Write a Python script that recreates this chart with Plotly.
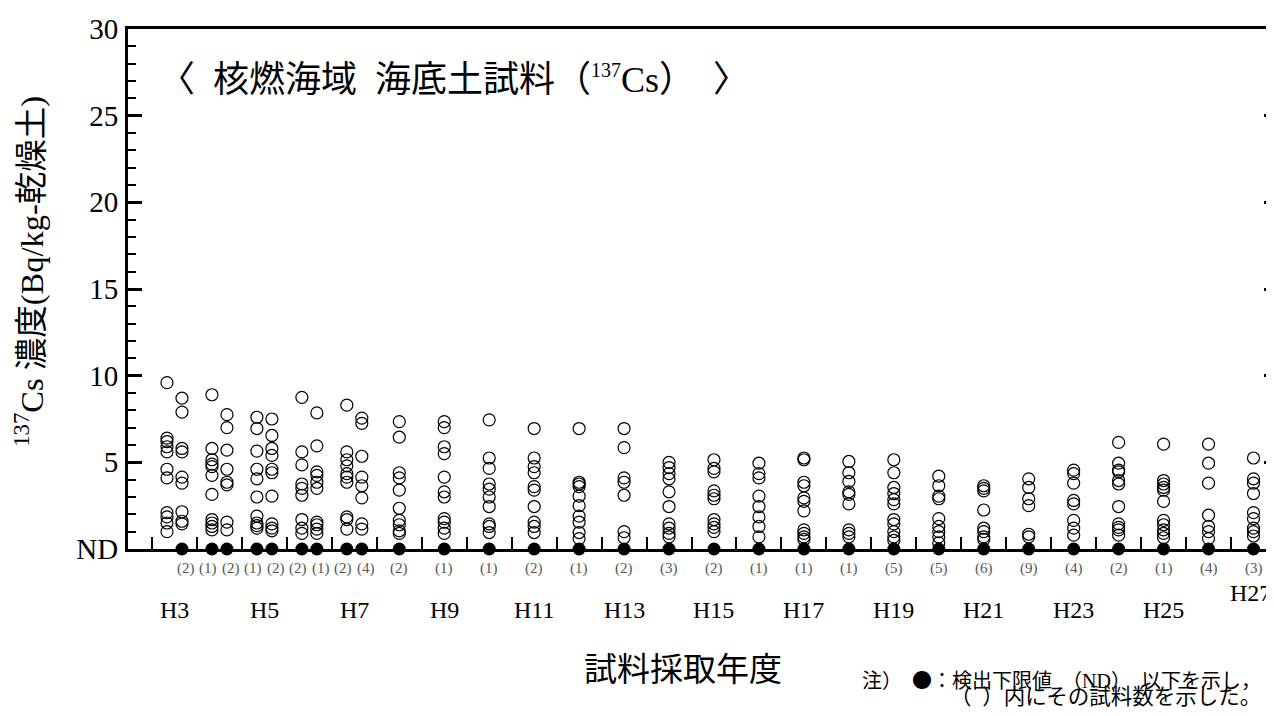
import plotly.graph_objects as go

# ---------------- data ----------------
# sampling columns: fiscal year (Heisei) and half (1 = first half, 2 = second half, 0 = whole year)
fiscal_years = [3, 3, 4, 4, 5, 5, 6, 6, 7, 7,
                8, 9, 10, 11, 12, 13, 14, 15, 16, 17,
                18, 19, 20, 21, 22, 23, 24, 25, 26, 27]
halves = [1, 2, 1, 2, 1, 2, 1, 2, 1, 2] + [0] * 20

# 137Cs concentrations (Bq/kg-dry) of detected samples per column
cs137_by_column = [
    [9.6, 6.4, 6.2, 5.9, 5.6, 4.6, 4.1, 2.1, 1.85, 1.5, 1.0],        # H3 first half
    [8.7, 7.9, 5.8, 5.6, 4.15, 3.8, 2.15, 1.6, 1.45],                # H3 second half
    [8.9, 5.8, 5.15, 4.9, 4.75, 4.25, 3.15, 1.7, 1.5, 1.3, 1.1],     # H4
    [7.75, 7.0, 5.7, 4.6, 3.85, 3.7, 1.55, 1.1],
    [7.6, 6.95, 5.65, 4.6, 4.05, 3.0, 1.9, 1.5, 1.35, 1.2],          # H5
    [7.5, 6.55, 5.8, 5.4, 4.6, 4.4, 3.05, 1.45, 1.2, 1.05],
    [8.75, 5.6, 4.85, 3.75, 3.5, 3.1, 1.7, 1.2, 0.9],                # H6
    [7.85, 5.95, 4.45, 4.25, 3.85, 3.5, 1.55, 1.4, 1.15, 0.9],
    [8.3, 5.6, 5.15, 4.8, 4.35, 4.15, 3.85, 1.85, 1.7, 1.15],        # H7
    [7.55, 7.25, 5.35, 4.15, 3.65, 2.95, 1.45, 1.15],
    [7.35, 6.45, 4.4, 4.1, 3.4, 2.35, 1.65, 1.4, 1.05, 0.9],         # H8
    [7.35, 7.0, 5.9, 5.5, 4.15, 3.3, 3.0, 1.75, 1.55, 1.2, 0.9],     # H9
    [7.45, 5.25, 4.65, 3.75, 3.45, 3.0, 2.45, 1.45, 1.3, 0.95],      # H10
    [6.95, 5.25, 4.75, 4.4, 3.6, 3.4, 2.45, 1.55, 1.3, 0.95],        # H11
    [6.95, 3.85, 3.75, 3.6, 3.05, 2.5, 1.9, 1.55, 0.95, 0.6],        # H12
    [6.95, 5.85, 4.1, 3.85, 3.1, 1.0, 0.65],                         # H13
    [5.0, 4.7, 4.35, 4.05, 3.3, 2.45, 1.45, 1.2, 0.9, 0.7],          # H14
    [5.15, 4.65, 4.45, 3.35, 3.1, 2.9, 1.7, 1.45, 1.25, 1.0],        # H15
    [4.95, 4.35, 4.1, 3.05, 2.45, 1.85, 1.3, 0.7],                   # H16
    [5.25, 5.15, 3.85, 3.65, 2.95, 2.75, 2.2, 1.1, 0.9, 0.7, 0.55],  # H17
    [5.05, 4.4, 3.9, 3.3, 3.15, 2.6, 1.1, 0.9, 0.7],                 # H18
    [5.15, 4.4, 3.55, 3.2, 2.85, 2.6, 1.7, 1.45, 1.0, 0.7, 0.5],     # H19
    [4.2, 3.65, 3.05, 2.9, 1.75, 1.3, 1.0, 0.7, 0.35],               # H20
    [3.65, 3.5, 3.35, 2.25, 1.2, 1.0, 0.7, 0.55],                    # H21
    [4.05, 3.55, 2.9, 2.5, 0.85, 0.7],                               # H22
    [4.55, 4.35, 3.8, 2.8, 2.6, 1.65, 1.2, 0.8],                     # H23
    [6.15, 4.95, 4.55, 4.45, 3.95, 3.75, 2.45, 1.45, 1.25, 1.1, 0.8],# H24
    [6.05, 3.95, 3.75, 3.55, 3.4, 2.75, 1.65, 1.4, 1.1, 0.9, 0.65],  # H25
    [6.05, 4.95, 3.8, 1.95, 1.3, 1.0, 0.6],                          # H26
    [5.25, 4.05, 3.8, 3.2, 2.1, 1.75, 1.2, 1.0, 0.75],               # H27
]

# number of samples below detection limit (ND) per column
nd_counts = [0, 2, 1, 2, 1, 2, 2, 1, 2, 4,
             2, 1, 1, 2, 1, 2, 3, 2, 1, 1,
             1, 5, 5, 6, 9, 4, 2, 1, 4, 3]

year_labels = ["H3", "H5", "H7", "H9", "H11", "H13", "H15", "H17", "H19", "H21", "H23", "H25"]
year_label_pos = [3, 5, 7, 9, 11, 13, 15, 17, 19, 21, 23, 25]
last_year_label = "H27"
last_year_pos = 27

y_tick_vals = [0, 5, 10, 15, 20, 25, 30]
y_tick_text = ["ND", "5", "10", "15", "20", "25", "30"]

title_text = ("〈\u2002核燃海域\u2002海底土試料（<sup><span style=\"font-size:20px\">137</span></sup>Cs）"
              "\u2002〉")
y_title_text = "<sup>137</sup>Cs 濃度(Bq/kg-乾燥土)"
x_title_text = "試料採取年度"
note_line1 = ("注）\u2002<span style=\"font-family:Noto Sans CJK JP\">●：</span>検出下限値\u2002（ND）"
              "\u2002以下を示し，")
note_line2 = "（\u2002）内にその試料数を示した。"

# ---------------- figure ----------------
SERIF = "Liberation Serif, Noto Sans CJK JP, serif"
CJK = "Noto Sans CJK JP, sans-serif"

half_offset = {0: 0.0, 1: -1 / 6, 2: 1 / 6}
label_offset = {0: 0.0, 1: -0.25, 2: 0.25}
col_x = [fy + half_offset[h] for fy, h in zip(fiscal_years, halves)]

px, py = [], []
for x, vals in zip(col_x, cs137_by_column):
    for v in vals:
        px.append(x)
        py.append(v)

fig = go.Figure()
fig.add_trace(go.Scatter(
    x=px, y=py, mode="markers",
    marker=dict(symbol="circle-open", size=12, color="black", line=dict(width=1.2)),
    cliponaxis=False, showlegend=False, hoverinfo="y",
))
nd_x = [x for x, n in zip(col_x, nd_counts) if n > 0]
fig.add_trace(go.Scatter(
    x=nd_x, y=[0] * len(nd_x), mode="markers",
    marker=dict(symbol="circle", size=13, color="black"),
    cliponaxis=False, showlegend=False, hoverinfo="skip",
))
# dummy trace so that the right-side tick axis is drawn
fig.add_trace(go.Scatter(x=[], y=[], yaxis="y2", showlegend=False, hoverinfo="skip"))

annotations = []
for fy, h, n in zip(fiscal_years, halves, nd_counts):
    if n > 0:
        annotations.append(dict(
            x=fy + label_offset[h], xref="x", y=0, yref="y", yshift=-19, yanchor="middle",
            text=f"({n})", showarrow=False,
            font=dict(family=SERIF, size=15, color="#555555"),
        ))
for lab, pos in zip(year_labels, year_label_pos):
    annotations.append(dict(
        x=pos, xref="x", y=0, yref="y", yshift=-61, yanchor="middle", text=lab, showarrow=False,
        font=dict(family=SERIF, size=24, color="black"),
    ))
annotations.append(dict(
    x=last_year_pos, xref="x", xshift=-3, y=0, yref="y", yshift=-44, yanchor="middle",
    text=last_year_label, showarrow=False, font=dict(family=SERIF, size=24, color="black"),
))
annotations.append(dict(
    x=0.4843, xref="paper", xanchor="center", y=0, yref="paper", yshift=-118, yanchor="middle",
    text=x_title_text, showarrow=False, font=dict(family=CJK, size=33, color="black"),
))
annotations.append(dict(
    x=0, xref="paper", xshift=-98, xanchor="center", y=0.533, yref="paper", yanchor="middle",
    text=y_title_text, textangle=-90, showarrow=False,
    font=dict(family=SERIF, size=32.5, color="black"),
))
annotations.append(dict(
    x=0.0253, xref="paper", y=0.902, yref="paper", xanchor="left", yanchor="middle",
    text=title_text, showarrow=False, font=dict(family=SERIF, size=36, color="black"),
))
annotations.append(dict(
    x=0.990, xref="paper", xanchor="right", y=0, yref="paper", yshift=-130, yanchor="middle",
    text=note_line1, showarrow=False, font=dict(family=SERIF, size=20, color="black"),
))
annotations.append(dict(
    x=0.990, xref="paper", xanchor="right", y=0, yref="paper", yshift=-148, yanchor="middle",
    text=note_line2, showarrow=False, font=dict(family=SERIF, size=21.5, color="black"),
))

# the page body adds an 8px offset, so the figure is 8px smaller and margins compensate
fig.update_layout(
    width=1266, height=708,
    margin=dict(l=120, r=0, t=21, b=167),
    paper_bgcolor="white", plot_bgcolor="white",
    showlegend=False,
    xaxis=dict(
        range=[1.966, 27.456], showgrid=False, zeroline=False,
        showline=True, linewidth=3, linecolor="black", mirror=True,
        ticks="inside", tickvals=[y + 0.5 for y in range(2, 27)],
        ticklen=12, tickwidth=2, tickcolor="black", showticklabels=False,
    ),
    yaxis=dict(
        range=[0, 30], showgrid=False, zeroline=False,
        showline=True, linewidth=3, linecolor="black",
        ticks="inside", tickvals=y_tick_vals, ticktext=y_tick_text,
        ticklen=14, tickwidth=2.5, tickcolor="black",
        tickfont=dict(family=SERIF, size=29, color="black"),
        ticklabelstandoff=1,
        minor=dict(ticks="inside", dtick=1, ticklen=8, tickwidth=2, tickcolor="black", showgrid=False),
    ),
    yaxis2=dict(
        range=[0, 30], overlaying="y", side="right", anchor="x",
        showgrid=False, zeroline=False, showline=False,
        ticks="inside", tickvals=y_tick_vals, ticklen=10, tickwidth=2.5, tickcolor="black",
        showticklabels=False,
        minor=dict(ticks="inside", dtick=1, ticklen=4, tickwidth=2, tickcolor="black", showgrid=False),
    ),
    annotations=annotations,
)

fig.write_html("out.html")
